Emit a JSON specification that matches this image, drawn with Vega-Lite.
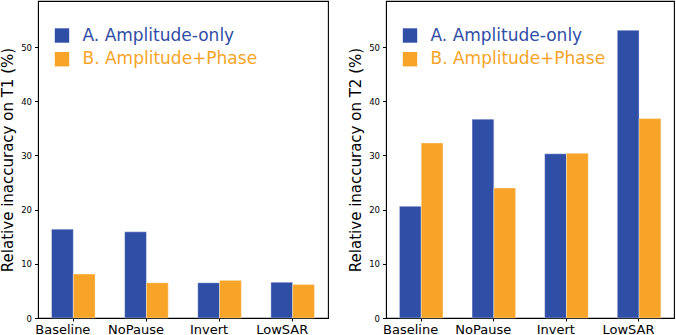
{
  "$schema": "https://vega.github.io/schema/vega-lite/v6.json",
  "padding": {"left": 0, "top": 0, "right": 0, "bottom": 0},
  "background": "white",
  "config": {
    "font": "DejaVu Sans",
    "view": {"stroke": "#000000", "strokeWidth": 1.1},
    "concat": {"spacing": 19},
    "axis": {
      "domainColor": "#000000",
      "tickColor": "#000000",
      "labelColor": "#000000",
      "titleColor": "#000000",
      "grid": false,
      "titleFontWeight": "normal"
    }
  },
  "data": {
    "values": [
      {"target": "T1", "protocol": "Baseline", "method": "A. Amplitude-only", "value": 16.4},
      {"target": "T1", "protocol": "Baseline", "method": "B. Amplitude+Phase", "value": 8.1},
      {"target": "T1", "protocol": "NoPause", "method": "A. Amplitude-only", "value": 15.9},
      {"target": "T1", "protocol": "NoPause", "method": "B. Amplitude+Phase", "value": 6.5},
      {"target": "T1", "protocol": "Invert", "method": "A. Amplitude-only", "value": 6.5},
      {"target": "T1", "protocol": "Invert", "method": "B. Amplitude+Phase", "value": 6.95},
      {"target": "T1", "protocol": "LowSAR", "method": "A. Amplitude-only", "value": 6.6},
      {"target": "T1", "protocol": "LowSAR", "method": "B. Amplitude+Phase", "value": 6.2},
      {"target": "T2", "protocol": "Baseline", "method": "A. Amplitude-only", "value": 20.6},
      {"target": "T2", "protocol": "Baseline", "method": "B. Amplitude+Phase", "value": 32.3},
      {"target": "T2", "protocol": "NoPause", "method": "A. Amplitude-only", "value": 36.7},
      {"target": "T2", "protocol": "NoPause", "method": "B. Amplitude+Phase", "value": 24.0},
      {"target": "T2", "protocol": "Invert", "method": "A. Amplitude-only", "value": 30.3},
      {"target": "T2", "protocol": "Invert", "method": "B. Amplitude+Phase", "value": 30.4},
      {"target": "T2", "protocol": "LowSAR", "method": "A. Amplitude-only", "value": 53.1},
      {"target": "T2", "protocol": "LowSAR", "method": "B. Amplitude+Phase", "value": 36.8}
    ]
  },
  "resolve": {"scale": {"color": "independent"}},
  "hconcat": [
    {
      "width": 290,
      "height": 317,
      "transform": [{"filter": "datum.target === 'T1'"}],
      "mark": {"type": "bar", "stroke": "white", "strokeOpacity": 0.45, "strokeWidth": 0.8},
      "encoding": {
        "x": {
          "field": "protocol",
          "type": "nominal",
          "sort": ["Baseline", "NoPause", "Invert", "LowSAR"],
          "scale": {"paddingInner": 0.404, "paddingOuter": 0.185},
          "axis": {"title": null, "labelAngle": 0, "ticks": true, "tickSize": 3, "labelPadding": 2, "labelOffset": -10.5, "labelFontSize": 13, "domain": true}
        },
        "xOffset": {
          "field": "method",
          "type": "nominal",
          "scale": {"paddingInner": 0, "paddingOuter": 0}
        },
        "y": {
          "field": "value",
          "type": "quantitative",
          "scale": {"domain": [0, 58.5], "nice": false, "zero": true},
          "axis": {
            "title": "Relative inaccuracy on T1 (%)",
            "values": [0, 10, 20, 30, 40, 50],
            "tickSize": 3.5,
            "labelPadding": 3,
            "labelFontSize": 8.5,
            "titleFontSize": 15,
            "titlePadding": 5
          }
        },
        "color": {
          "field": "method",
          "type": "nominal",
          "scale": {"domain": ["A. Amplitude-only", "B. Amplitude+Phase"], "range": ["#2F4EA6", "#F7A428"]},
          "legend": {
            "title": null,
            "orient": "none",
            "legendX": 15.5,
            "legendY": 26,
            "padding": 0,
            "symbolType": "square",
            "symbolSize": 207,
            "symbolStrokeWidth": 0,
            "labelFontSize": 17,
            "labelOffset": 12,
            "rowPadding": 5.7,
            "labelLimit": 300,
            "labelColor": {"expr": "datum.value === 'A. Amplitude-only' ? '#2F4EA6' : '#F7A428'"}
          }
        }
      }
    },
    {
      "width": 288,
      "height": 317,
      "transform": [{"filter": "datum.target === 'T2'"}],
      "mark": {"type": "bar", "stroke": "white", "strokeOpacity": 0.45, "strokeWidth": 0.8},
      "encoding": {
        "x": {
          "field": "protocol",
          "type": "nominal",
          "sort": ["Baseline", "NoPause", "Invert", "LowSAR"],
          "scale": {"paddingInner": 0.404, "paddingOuter": 0.185},
          "axis": {"title": null, "labelAngle": 0, "ticks": true, "tickSize": 3, "labelPadding": 2, "labelOffset": -10.5, "labelFontSize": 13, "domain": true}
        },
        "xOffset": {
          "field": "method",
          "type": "nominal",
          "scale": {"paddingInner": 0, "paddingOuter": 0}
        },
        "y": {
          "field": "value",
          "type": "quantitative",
          "scale": {"domain": [0, 58.5], "nice": false, "zero": true},
          "axis": {
            "title": "Relative inaccuracy on T2 (%)",
            "values": [0, 10, 20, 30, 40, 50],
            "tickSize": 3.5,
            "labelPadding": 3,
            "labelFontSize": 8.5,
            "titleFontSize": 15,
            "titlePadding": 5
          }
        },
        "color": {
          "field": "method",
          "type": "nominal",
          "scale": {"domain": ["A. Amplitude-only", "B. Amplitude+Phase"], "range": ["#2F4EA6", "#F7A428"]},
          "legend": {
            "title": null,
            "orient": "none",
            "legendX": 15.5,
            "legendY": 26,
            "padding": 0,
            "symbolType": "square",
            "symbolSize": 207,
            "symbolStrokeWidth": 0,
            "labelFontSize": 17,
            "labelOffset": 12,
            "rowPadding": 5.7,
            "labelLimit": 300,
            "labelColor": {"expr": "datum.value === 'A. Amplitude-only' ? '#2F4EA6' : '#F7A428'"}
          }
        }
      }
    }
  ]
}
